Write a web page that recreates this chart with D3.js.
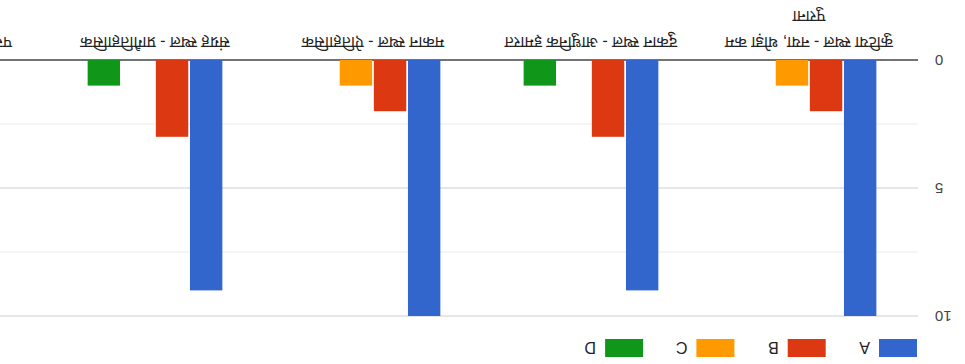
<!DOCTYPE html>
<html>
<head>
<meta charset="utf-8">
<script src="https://cdnjs.cloudflare.com/ajax/libs/d3/7.8.5/d3.min.js"></script>
<style>
  body { margin: 0; background: #fff; }
  svg { display: block; font-family: "Liberation Sans", Arial, "Noto Sans", sans-serif; }
</style>
</head>
<body>
<svg></svg>
<script>
const svgWidth = 965;
const svgHeight = 364;

// categories (Hindi labels), last one runs off the right edge
const categories = [
	"कुटिया स्थल - नया, थोड़ा कम पुराना",
	"दुकान स्थल - आधुनिक इमारत",
	"मकान स्थल - ऐतिहासिक",
	"संग्रह स्थल - प्रागैतिहासिक",
	"पसंदीदा स्थल - सांस्कृतिक"
];
const seriesNames = ["A", "B", "C", "D"];
const valuesA = [10, 9, 10, 9, null];
const valuesB = [2, 3, 2, 3, null];
const valuesC = [1, 0, 1, 0, null];
const valuesD = [0, 1, 0, 1, null];
const colors = ["#3366cc", "#dc3912", "#ff9900", "#109618"];
const yTicks = [0, 5, 10];
const yGrid = [0, 2.5, 5, 7.5, 10];

const seriesValues = [valuesA, valuesB, valuesC, valuesD];
const rows = categories.map((c, i) => ({
	cat: c,
	vals: seriesNames.map((s, j) => ({ key: s, value: seriesValues[j][i] }))
}));

const svg = d3.select("svg")
	.attr("width", svgWidth)
	.attr("height", svgHeight);

// the reference picture is upside down, so draw normally and turn it round
const g = svg.append("g")
	.attr("transform", `rotate(180, ${svgWidth / 2}, ${svgHeight / 2})`);

const plotLeft = 47;
const step = 218;
const plotTop = 48;
const plotBottom = 304;

const x0 = d3.scaleBand()
	.domain(categories)
	.range([plotLeft, plotLeft + step * categories.length]);
const groupWidth = x0.bandwidth() * 0.618;
const x1 = d3.scaleBand()
	.domain(seriesNames)
	.range([0, groupWidth])
	.paddingInner(0.05);
const y = d3.scaleLinear()
	.domain([0, 10])
	.range([plotBottom, plotTop]);

// gridlines
g.append("g")
	.selectAll("line")
	.data(yGrid)
	.enter()
	.append("line")
		.attr("x1", plotLeft)
		.attr("x2", plotLeft + step * categories.length)
		.attr("y1", d => y(d))
		.attr("y2", d => y(d))
		.attr("stroke", d => d === 0 ? "#444" : (d % 5 === 0 ? "#ccc" : "#ebebeb"))
		.attr("stroke-width", d => d === 0 ? 1.5 : 1);

// y axis labels
const yAxis = d3.axisLeft(y)
	.tickValues(yTicks)
	.tickSize(0)
	.tickPadding(0)
	.tickFormat(d3.format("d"));
const yG = g.append("g")
	.attr("transform", `translate(${plotLeft - 17}, 0)`)
	.call(yAxis);
yG.select(".domain").remove();
yG.selectAll("text")
	.attr("font-size", 15)
	.attr("font-family", "Liberation Sans, Arial, sans-serif")
	.attr("fill", "#444");

// bars
g.append("g")
	.selectAll("g")
	.data(rows)
	.enter()
	.append("g")
		.attr("transform", d => `translate(${x0(d.cat) + (x0.bandwidth() - groupWidth) / 2}, 0)`)
	.selectAll("rect")
	.data(d => d.vals.filter(v => v.value))
	.enter()
	.append("rect")
		.attr("x", d => x1(d.key))
		.attr("width", x1.bandwidth())
		.attr("y", d => y(d.value))
		.attr("height", d => y(0) - y(d.value))
		.attr("fill", (d) => colors[seriesNames.indexOf(d.key)]);

// category labels, wrapped like the chart does
const labelG = g.append("g");
categories.forEach(c => {
	const cx = x0(c) + x0.bandwidth() / 2;
	const words = c.split(" ");
	const t = labelG.append("text")
		.attr("x", cx)
		.attr("text-anchor", "middle")
		.attr("font-size", 16)
		.attr("fill", "#222");
	let lines = [];
	let line = [];
	const probe = t.append("tspan");
	words.forEach(w => {
		line.push(w);
		probe.text(line.join(" "));
		if (probe.node().getComputedTextLength() > 190 && line.length > 1) {
			line.pop();
			lines.push(line.join(" "));
			line = [w];
		}
	});
	lines.push(line.join(" "));
	probe.remove();
	lines.forEach((l, i) => {
		t.append("tspan")
			.attr("x", cx)
			.attr("y", 327 + i * 26)
			.text(l);
	});
});

// legend
const legend = g.append("g")
	.selectAll("g")
	.data(seriesNames)
	.enter()
	.append("g")
		.attr("transform", (d, i) => `translate(${48 + i * 91.3}, 7)`);
legend.append("rect")
	.attr("width", 38)
	.attr("height", 18)
	.attr("fill", (d, i) => colors[i]);
legend.append("text")
	.attr("x", 47)
	.attr("y", 15)
	.attr("font-size", 16)
	.attr("fill", "#222")
	.text(d => d);
</script>
</body>
</html>
